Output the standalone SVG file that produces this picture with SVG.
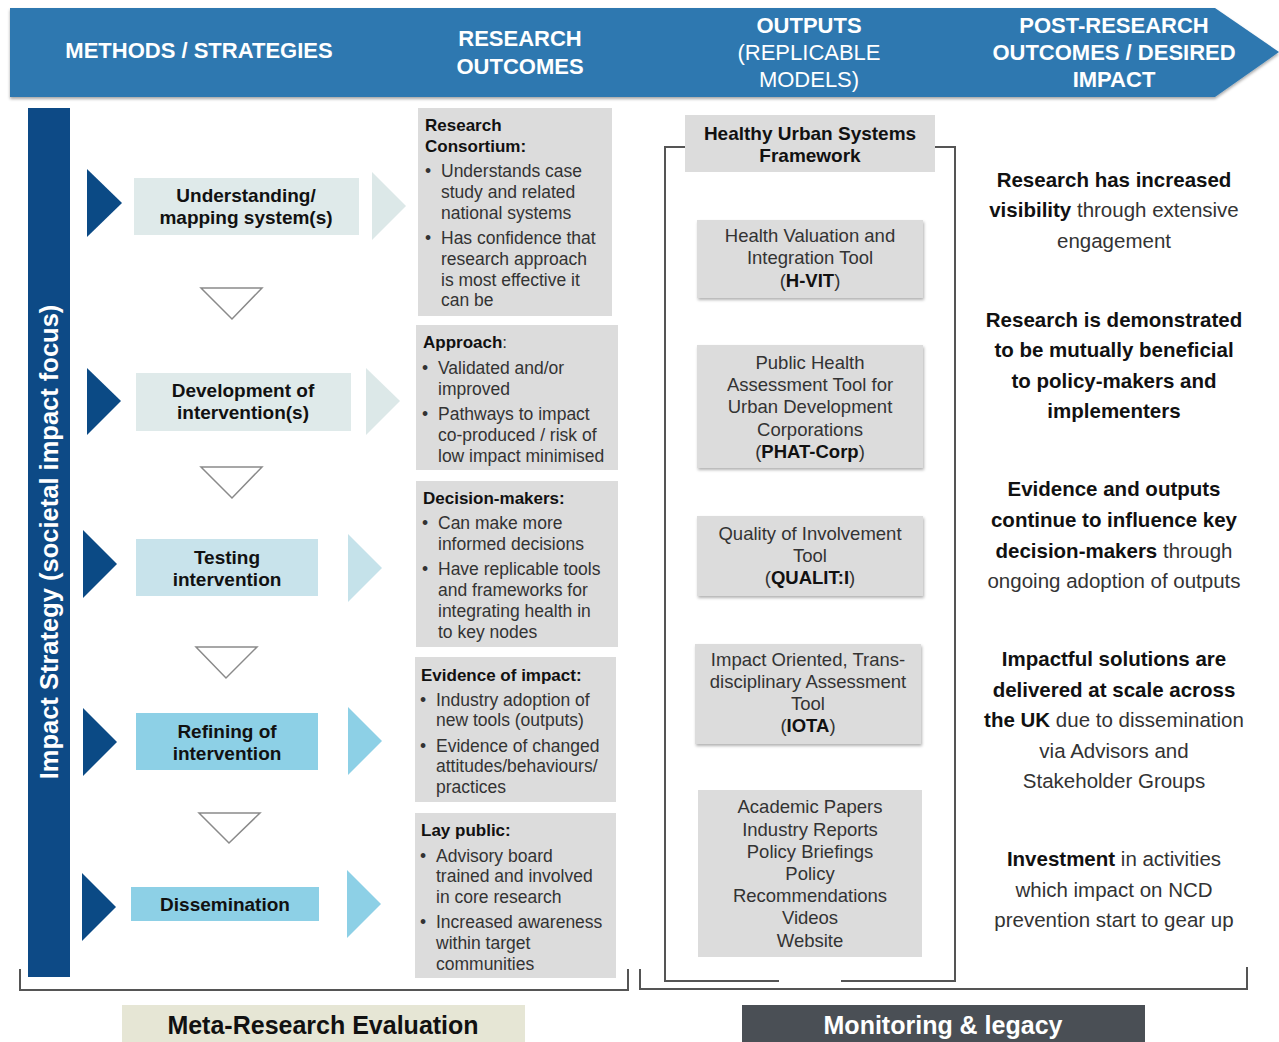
<svg xmlns="http://www.w3.org/2000/svg" width="1279" height="1042" viewBox="0 0 1279 1042">
<defs>
<filter id="sh" x="-10%" y="-10%" width="125%" height="130%"><feDropShadow dx="1" dy="2" stdDeviation="1.5" flood-color="#000" flood-opacity="0.3"/></filter>
<filter id="bsh" x="-2%" y="-10%" width="104%" height="130%"><feDropShadow dx="0" dy="2" stdDeviation="1.5" flood-color="#000" flood-opacity="0.35"/></filter>
</defs>
<style>
text{font-family:"Liberation Sans",Arial,Helvetica,sans-serif}
.hd{font-size:22px;font-weight:bold;fill:#fff;text-anchor:middle}
.hr{font-size:22px;font-weight:normal;fill:#fff;text-anchor:middle}
.st{font-size:19px;font-weight:bold;fill:#111;text-anchor:middle}
.gbox{fill:#dcdcdc}
.tt{font-size:17px;font-weight:bold;fill:#111}
.fw{font-size:19px;font-weight:bold;fill:#111;text-anchor:middle}
.bd{font-size:17.5px;fill:#333}
.tl{font-size:18.5px;fill:#333;text-anchor:middle}
.rc{font-size:20.5px;fill:#333;text-anchor:middle}
.b{font-weight:bold;fill:#111}
.dk{fill:#0b4a85}
.dn{fill:#fff;stroke:#8a8a8a;stroke-width:1.5}
.br{fill:none;stroke:#555;stroke-width:2}
</style>

<g id="header">
<polygon points="10,8 1215,8 1279,52 1215,97 10,97" fill="#2f78b0" filter="url(#bsh)"/>
<text class="hd" x="199" y="58">METHODS / STRATEGIES</text>
<text class="hd" x="520" y="46">RESEARCH</text>
<text class="hd" x="520" y="74">OUTCOMES</text>
<text class="hd" x="809" y="33">OUTPUTS</text>
<text class="hr" x="809" y="60">(REPLICABLE</text>
<text class="hr" x="809" y="87">MODELS)</text>
<text class="hd" x="1114" y="33">POST-RESEARCH</text>
<text class="hd" x="1114" y="60">OUTCOMES / DESIRED</text>
<text class="hd" x="1114" y="87">IMPACT</text>
</g>

<g id="impact-strategy-bar">
<rect x="28" y="108" width="42" height="869" fill="#0d4a86"/>
<text transform="translate(49,542) rotate(-90)" y="9" text-anchor="middle" font-size="25.5" font-weight="bold" fill="#fff">Impact Strategy (societal impact focus)</text>
</g>

<g id="step-understanding">
<rect x="134" y="178" width="225" height="57" fill="#dfeaea"/>
<text class="st" x="246" y="202">Understanding/</text>
<text class="st" x="246" y="224">mapping system(s)</text>
</g>
<g id="step-development">
<rect x="136" y="373" width="215" height="58" fill="#dfeaea"/>
<text class="st" x="243" y="397">Development of</text>
<text class="st" x="243" y="419">intervention(s)</text>
</g>
<g id="step-testing">
<rect x="136" y="539" width="182" height="57" fill="#c8e3eb"/>
<text class="st" x="227" y="564">Testing</text>
<text class="st" x="227" y="586">intervention</text>
</g>
<g id="step-refining">
<rect x="136" y="713" width="182" height="57" fill="#8dd0e6"/>
<text class="st" x="227" y="738">Refining of</text>
<text class="st" x="227" y="760">intervention</text>
</g>
<g id="step-dissemination">
<rect x="131" y="887" width="188" height="34" fill="#8dd0e6"/>
<text class="st" x="225" y="911">Dissemination</text>
</g>

<g id="outcome-consortium">
<rect class="gbox" x="418" y="108" width="194" height="208"/>
<text class="tt" x="425" y="131">Research</text>
<text class="tt" x="425" y="152">Consortium:</text>
<text class="bd" x="425" y="177">•</text><text class="bd" x="441" y="177">Understands case</text>
<text class="bd" x="441" y="198">study and related</text>
<text class="bd" x="441" y="219">national systems</text>
<text class="bd" x="425" y="244">•</text><text class="bd" x="441" y="244">Has confidence that</text>
<text class="bd" x="441" y="265">research approach</text>
<text class="bd" x="441" y="286">is most effective it</text>
<text class="bd" x="441" y="306">can be</text>
</g>
<g id="outcome-approach">
<rect class="gbox" x="416" y="325" width="202" height="145"/>
<text class="tt" x="423" y="348">Approach<tspan font-weight="normal" fill="#333">:</tspan></text>
<text class="bd" x="422" y="374">•</text><text class="bd" x="438" y="374">Validated and/or</text>
<text class="bd" x="438" y="395">improved</text>
<text class="bd" x="422" y="420">•</text><text class="bd" x="438" y="420">Pathways to impact</text>
<text class="bd" x="438" y="441">co-produced / risk of</text>
<text class="bd" x="438" y="462">low impact minimised</text>
</g>
<g id="outcome-decision-makers">
<rect class="gbox" x="416" y="481" width="202" height="166"/>
<text class="tt" x="423" y="504">Decision-makers:</text>
<text class="bd" x="422" y="529">•</text><text class="bd" x="438" y="529">Can make more</text>
<text class="bd" x="438" y="550">informed decisions</text>
<text class="bd" x="422" y="575">•</text><text class="bd" x="438" y="575">Have replicable tools</text>
<text class="bd" x="438" y="596">and frameworks for</text>
<text class="bd" x="438" y="617">integrating health in</text>
<text class="bd" x="438" y="638">to key nodes</text>
</g>
<g id="outcome-evidence">
<rect class="gbox" x="415" y="657" width="201" height="145"/>
<text class="tt" x="421" y="681">Evidence of impact:</text>
<text class="bd" x="420" y="706">•</text><text class="bd" x="436" y="706">Industry adoption of</text>
<text class="bd" x="436" y="726">new tools (outputs)</text>
<text class="bd" x="420" y="752">•</text><text class="bd" x="436" y="752">Evidence of changed</text>
<text class="bd" x="436" y="772">attitudes/behaviours/</text>
<text class="bd" x="436" y="793">practices</text>
</g>
<g id="outcome-lay-public">
<rect class="gbox" x="415" y="813" width="201" height="165"/>
<text class="tt" x="421" y="836">Lay public:</text>
<text class="bd" x="420" y="862">•</text><text class="bd" x="436" y="862">Advisory board</text>
<text class="bd" x="436" y="882">trained and involved</text>
<text class="bd" x="436" y="903">in core research</text>
<text class="bd" x="420" y="928">•</text><text class="bd" x="436" y="928">Increased awareness</text>
<text class="bd" x="436" y="949">within target</text>
<text class="bd" x="436" y="970">communities</text>
</g>

<g id="output-framework">
<rect class="gbox" x="685" y="115" width="250" height="57"/>
<text class="fw" x="810" y="140">Healthy Urban Systems</text>
<text class="fw" x="810" y="162">Framework</text>
</g>
<g id="output-hvit">
<rect class="gbox" x="697" y="220" width="226" height="78" filter="url(#sh)"/>
<text class="tl" x="810" y="242">Health Valuation and</text>
<text class="tl" x="810" y="264">Integration Tool</text>
<text class="tl" x="810" y="287">(<tspan class="b">H-VIT</tspan>)</text>
</g>
<g id="output-phat-corp">
<rect class="gbox" x="697" y="345" width="226" height="123" filter="url(#sh)"/>
<text class="tl" x="810" y="369">Public Health</text>
<text class="tl" x="810" y="391">Assessment Tool for</text>
<text class="tl" x="810" y="413">Urban Development</text>
<text class="tl" x="810" y="436">Corporations</text>
<text class="tl" x="810" y="458">(<tspan class="b">PHAT-Corp</tspan>)</text>
</g>
<g id="output-qualiti">
<rect class="gbox" x="697" y="516" width="226" height="80" filter="url(#sh)"/>
<text class="tl" x="810" y="540">Quality of Involvement</text>
<text class="tl" x="810" y="562">Tool</text>
<text class="tl" x="810" y="584">(<tspan class="b">QUALIT:I</tspan>)</text>
</g>
<g id="output-iota">
<rect class="gbox" x="695" y="644" width="226" height="100" filter="url(#sh)"/>
<text class="tl" x="808" y="666">Impact Oriented, Trans-</text>
<text class="tl" x="808" y="688">disciplinary Assessment</text>
<text class="tl" x="808" y="710">Tool</text>
<text class="tl" x="808" y="732">(<tspan class="b">IOTA</tspan>)</text>
</g>
<g id="output-publications">
<rect class="gbox" x="698" y="790" width="224" height="167"/>
<text class="tl" x="810" y="813">Academic Papers</text>
<text class="tl" x="810" y="836">Industry Reports</text>
<text class="tl" x="810" y="858">Policy Briefings</text>
<text class="tl" x="810" y="880">Policy</text>
<text class="tl" x="810" y="902">Recommendations</text>
<text class="tl" x="810" y="924">Videos</text>
<text class="tl" x="810" y="947">Website</text>
</g>

<g id="impact-visibility">
<text class="rc" x="1114" y="187"><tspan class="b">Research has increased</tspan></text>
<text class="rc" x="1114" y="217"><tspan class="b">visibility</tspan> through extensive</text>
<text class="rc" x="1114" y="248">engagement</text>
</g>
<g id="impact-mutual-benefit">
<text class="rc b" x="1114" y="327">Research is demonstrated</text>
<text class="rc b" x="1114" y="357">to be mutually beneficial</text>
<text class="rc b" x="1114" y="388">to policy-makers and</text>
<text class="rc b" x="1114" y="418">implementers</text>
</g>
<g id="impact-influence">
<text class="rc b" x="1114" y="496">Evidence and outputs</text>
<text class="rc b" x="1114" y="527">continue to influence key</text>
<text class="rc" x="1114" y="558"><tspan class="b">decision-makers</tspan> through</text>
<text class="rc" x="1114" y="588">ongoing adoption of outputs</text>
</g>
<g id="impact-scale">
<text class="rc b" x="1114" y="666">Impactful solutions are</text>
<text class="rc b" x="1114" y="697">delivered at scale across</text>
<text class="rc" x="1114" y="727"><tspan class="b">the UK</tspan> due to dissemination</text>
<text class="rc" x="1114" y="758">via Advisors and</text>
<text class="rc" x="1114" y="788">Stakeholder Groups</text>
</g>
<g id="impact-investment">
<text class="rc" x="1114" y="866"><tspan class="b">Investment</tspan> in activities</text>
<text class="rc" x="1114" y="897">which impact on NCD</text>
<text class="rc" x="1114" y="927">prevention start to gear up</text>
</g>

<g id="meta-research-evaluation">
<rect x="122" y="1005" width="403" height="40" fill="#e6e6d5"/>
<text x="323" y="1034" text-anchor="middle" font-size="25" font-weight="bold" fill="#111">Meta-Research Evaluation</text>
</g>
<g id="monitoring-legacy">
<rect x="742" y="1005" width="403" height="40" fill="#4a4f55"/>
<text x="943" y="1034" text-anchor="middle" font-size="25" font-weight="bold" fill="#fff">Monitoring &amp; legacy</text>
</g>

<g id="connectors">
<polygon class="dk" points="87,169 122,203 87,237"/>
<polygon class="dk" points="87,368 121,401 87,435"/>
<polygon class="dk" points="83,530 117,564 83,598"/>
<polygon class="dk" points="83,708 117,742 83,776"/>
<polygon class="dk" points="82,873 116,907 82,941"/>
<polygon points="372,172 406,206 372,240" fill="#dce8e8"/>
<polygon points="366,368 400,401 366,435" fill="#dce8e8"/>
<polygon points="348,534 382,568 348,602" fill="#c5e2ea"/>
<polygon points="348,707 382,741 348,775" fill="#8dd0e6"/>
<polygon points="347,870 381,904 347,938" fill="#8dd0e6"/>
<polygon class="dn" points="201,288 262,288 232,319"/>
<polygon class="dn" points="201,467 262,467 232,498"/>
<polygon class="dn" points="196,647 257,647 226,678"/>
<polygon class="dn" points="199,813 260,813 229,843"/>
<path class="br" d="M685,147 H665 V981 H779 M841,981 H955 V147 H935"/>
<path class="br" d="M20,969 V990 H628 V969"/>
<path class="br" d="M640,969 V989 H1247 V967"/>
</g>
</svg>
